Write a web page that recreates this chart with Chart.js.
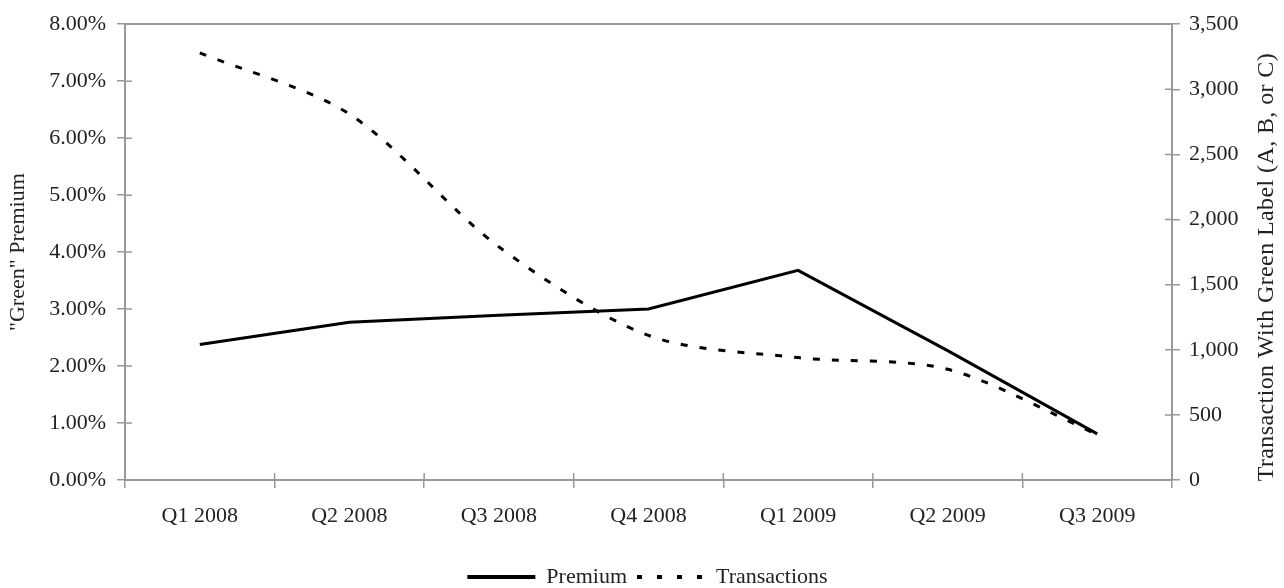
<!DOCTYPE html>
<html>
<head>
<meta charset="utf-8">
<script src="https://cdn.jsdelivr.net/npm/chart.js@4"></script>
<style>
  html, body { margin: 0; padding: 0; background: #fff; }
  #wrap { width: 1284px; height: 588px; }
</style>
</head>
<body>
<div id="wrap"><canvas id="grafico"></canvas></div>
<script>
const quarters = ['Q1 2008', 'Q2 2008', 'Q3 2008', 'Q4 2008', 'Q1 2009', 'Q2 2009', 'Q3 2009'];
const premium = [2.38, 2.77, 2.89, 3.00, 3.68, 2.27, 0.81];      // % green premium
const transactions = [3280, 2810, 1790, 1110, 940, 850, 350];    // deals with green label
const rightTitle = 'Transaction With Green Label (A, B, or C)';

const axisGray = '#999';
const textColor = '#222';
const serif = { family: 'Liberation Serif', size: 22 };

// little tick marks that poke into the plot, like the original
const innerTicks = {
    id: 'innerTicks',
    afterDraw(chart) {
        const ctx = chart.ctx;
        const len = 7;
        ctx.save();
        ctx.strokeStyle = axisGray;
        ctx.lineWidth = 1.5;
        ctx.beginPath();
        const y = chart.scales.y, y2 = chart.scales.y2, x = chart.scales.x;
        y.ticks.forEach(t => {
            const p = y.getPixelForValue(t.value);
            ctx.moveTo(y.right, p); ctx.lineTo(y.right + len, p);
        });
        y2.ticks.forEach(t => {
            const p = y2.getPixelForValue(t.value);
            ctx.moveTo(y2.left, p); ctx.lineTo(y2.left - len, p);
        });
        const step = x.width / quarters.length;
        for (let i = 1; i < quarters.length; i++) {
            const p = x.getPixelForTick(i) - step / 2;
            ctx.moveTo(p, x.top); ctx.lineTo(p, x.top - len);
        }
        ctx.stroke();
        ctx.restore();
    }
};

// right axis title reads bottom-to-top in the original, chart.js turns it the other way
const rightAxisTitle = {
    id: 'rightAxisTitle',
    afterDraw(chart) {
        const ctx = chart.ctx;
        const s = chart.scales.y2;
        ctx.save();
        ctx.translate(s.right - 11, (s.top + s.bottom) / 2 + 15);
        ctx.rotate(-Math.PI / 2);
        ctx.font = '24px "Liberation Serif"';
        ctx.letterSpacing = '0.4px';
        ctx.fillStyle = textColor;
        ctx.textAlign = 'center';
        ctx.textBaseline = 'alphabetic';
        ctx.fillText(rightTitle, 0, 0);
        ctx.restore();
    }
};

new Chart(document.getElementById('grafico'), {
    type: 'line',
    data: {
        labels: quarters,
        datasets: [{
            label: 'Premium',
            data: premium,
            yAxisID: 'y',
            borderColor: '#000',
            backgroundColor: '#000',
            borderWidth: 3,
            pointRadius: 0,
            tension: 0
        }, {
            label: 'Transactions',
            data: transactions,
            yAxisID: 'y2',
            borderColor: '#000',
            backgroundColor: '#000',
            borderWidth: 3,
            borderDash: [7, 12],
            pointRadius: 0,
            tension: 0.3
        }]
    },
    options: {
        responsive: true,
        maintainAspectRatio: false,
        animation: false,
        layout: { padding: { left: 11, right: 0, top: 0, bottom: -10 } },
        plugins: {
            tooltip: { enabled: false },
            legend: {
                position: 'bottom',
                labels: {
                    usePointStyle: true,
                    pointStyle: 'line',
                    pointStyleWidth: 68,
                    padding: 10,
                    font: serif,
                    color: textColor,
                    generateLabels(chart) {
                        const items = Chart.defaults.plugins.legend.labels.generateLabels(chart);
                        items.forEach((it, i) => {
                            it.lineDash = i === 1 ? [5, 15] : [];
                            it.lineWidth = 4;
                            it.strokeStyle = '#000';
                        });
                        return items;
                    }
                }
            }
        },
        scales: {
            x: {
                type: 'category',
                position: 'bottom',
                offset: true,
                grid: { offset: true, drawOnChartArea: false, tickLength: 8, color: axisGray, lineWidth: 1.5 },
                border: { color: axisGray, width: 2 },
                ticks: { font: serif, color: textColor, padding: 15, maxRotation: 0, autoSkip: false },
                afterFit(s) { s.height = 76; }
            },
            x2: {
                type: 'category',
                labels: quarters,
                position: 'top',
                offset: true,
                grid: { display: false },
                ticks: { display: false },
                border: { display: true, color: axisGray, width: 2 },
                afterFit(s) { s.height = 20; }
            },
            y: {
                position: 'left',
                min: 0,
                max: 8,
                ticks: {
                    stepSize: 1,
                    padding: 11,
                    font: serif,
                    color: textColor,
                    callback: v => v.toFixed(2) + '%'
                },
                grid: { drawOnChartArea: false, tickLength: 8, color: axisGray, lineWidth: 1.5 },
                border: { color: axisGray, width: 2 },
                title: {
                    display: true,
                    text: '"Green" Premium',
                    font: serif,
                    color: textColor,
                    padding: { top: -6, bottom: 0 }
                },
                afterFit(s) { s.width = 114; }
            },
            y2: {
                position: 'right',
                min: 0,
                max: 3500,
                ticks: {
                    stepSize: 500,
                    padding: 9,
                    font: serif,
                    color: textColor,
                    callback: v => v.toLocaleString('en-US')
                },
                grid: { drawOnChartArea: false, tickLength: 8, color: axisGray, lineWidth: 1.5 },
                border: { color: axisGray, width: 2 },
                afterFit(s) { s.width = 112; }
            }
        }
    },
    plugins: [innerTicks, rightAxisTitle]
});
</script>
</body>
</html>
